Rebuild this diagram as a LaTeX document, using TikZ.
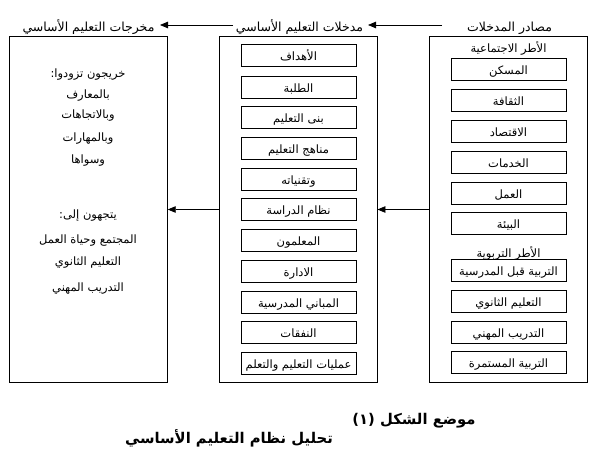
\documentclass[tikz,border=0pt]{standalone}
\usepackage{fontspec}
\TeXXeTstate=1
\newfontfamily\arabicfont[Script=Arabic]{DejaVu Sans}
\usetikzlibrary{arrows.meta}
\newcommand{\rtl}[1]{\beginR #1\endR}
\begin{document}
\begin{tikzpicture}[x=1pt,y=-1pt,
  outerbox/.style={draw, line width=0.9pt, minimum width=158pt, minimum height=346pt, inner sep=0pt},
  itembox/.style={draw, line width=0.9pt, minimum width=115pt, minimum height=22pt, inner sep=0pt, text height=10pt, text depth=0pt, font=\arabicfont\fontsize{11.5}{13}\selectfont},
  lbl/.style={inner sep=0pt, text height=10pt, text depth=0pt, font=\arabicfont\fontsize{11.5}{13}\selectfont},
  hdr/.style={inner sep=0pt, text height=10pt, text depth=0pt, font=\arabicfont\fontsize{12.5}{14}\selectfont},
  ttl/.style={inner sep=0pt, text height=9pt, text depth=3pt, font=\arabicfont\bfseries\fontsize{14.8}{17}\selectfont},
  arr/.style={line width=0.8pt, -{Triangle[length=8pt,width=6.5pt]}}]
\useasboundingbox (0,0) rectangle (600,471);
% headers
\node[hdr] (h1) at (509.5,26) {\rtl{مصادر المدخلات}};
\node[hdr] (h2) at (299.5,26) {\rtl{مدخلات التعليم الأساسي}};
\node[hdr] (h3) at (88.5,26) {\rtl{مخرجات التعليم الأساسي}};
\coordinate (a1s) at (442,25); \coordinate (a1e) at (368,25);
\coordinate (a2s) at (233,25); \coordinate (a2e) at (160,25);
\draw[arr] (a1s) -- (a1e);
\draw[arr] (a2s) -- (a2e);
% outer boxes
\node[outerbox] (rbox) at (508,209.5) {};
\node[outerbox] (mbox) at (298,209.5) {};
\node[outerbox] (lbox) at (88.25,209.5) {};
% right column
\node[lbl] (rh1) at (508.5,47) {\rtl{الأطر الاجتماعية}};
\node[itembox] (r1) at (508.5,69) {\rtl{المسكن}};
\node[itembox] (r2) at (508.5,100) {\rtl{الثقافة}};
\node[itembox] (r3) at (508.5,131) {\rtl{الاقتصاد}};
\node[itembox] (r4) at (508.5,162) {\rtl{الخدمات}};
\node[itembox] (r5) at (508.5,193) {\rtl{العمل}};
\node[itembox] (r6) at (508.5,223) {\rtl{البيئة}};
\node[lbl] (rh2) at (508.5,252) {\rtl{الأطر التربوية}};
\node[itembox] (r7) at (508.5,270) {\rtl{التربية قبل المدرسية}};
\node[itembox] (r8) at (508.5,301) {\rtl{التعليم الثانوي}};
\node[itembox] (r9) at (508.5,332) {\rtl{التدريب المهني}};
\node[itembox] (r10) at (508.5,362) {\rtl{التربية المستمرة}};
% middle column
\node[itembox] (m1) at (298.5,55) {\rtl{الأهداف}};
\node[itembox] (m2) at (298.5,87) {\rtl{الطلبة}};
\node[itembox] (m3) at (298.5,117) {\rtl{بنى التعليم}};
\node[itembox] (m4) at (298.5,148) {\rtl{مناهج التعليم}};
\node[itembox] (m5) at (298.5,179) {\rtl{وتقنياته}};
\node[itembox] (m6) at (298.5,209) {\rtl{نظام الدراسة}};
\node[itembox] (m7) at (298.5,240) {\rtl{المعلمون}};
\node[itembox] (m8) at (298.5,271) {\rtl{الادارة}};
\node[itembox] (m9) at (298.5,302) {\rtl{المباني المدرسية}};
\node[itembox] (m10) at (298.5,332) {\rtl{النفقات}};
\node[itembox] (m11) at (298.5,363) {\rtl{عمليات التعليم والتعلم}};
% left column
\node[lbl] (l1) at (88,72) {\rtl{خريجون تزودوا:}};
\node[lbl] (l2) at (88,93) {\rtl{بالمعارف}};
\node[lbl] (l3) at (88,113) {\rtl{وبالاتجاهات}};
\node[lbl] (l4) at (88,136) {\rtl{وبالمهارات}};
\node[lbl] (l5) at (88,158) {\rtl{وسواها}};
\node[lbl] (l6) at (88,213) {\rtl{يتجهون إلى:}};
\node[lbl] (l7) at (88,238) {\rtl{المجتمع وحياة العمل}};
\node[lbl] (l8) at (88,260) {\rtl{التعليم الثانوي}};
\node[lbl] (l9) at (88,286) {\rtl{التدريب المهني}};
% connectors
\draw[arr] (rbox.west) -- (mbox.east);
\draw[arr] (mbox.west) -- (lbox.east);
% title
\node[ttl] (t1) at (414,421) {\rtl{موضع الشكل (١)}};
\node[ttl] (t2) at (229,440) {\rtl{تحليل نظام التعليم الأساسي}};
\end{tikzpicture}
\end{document}
